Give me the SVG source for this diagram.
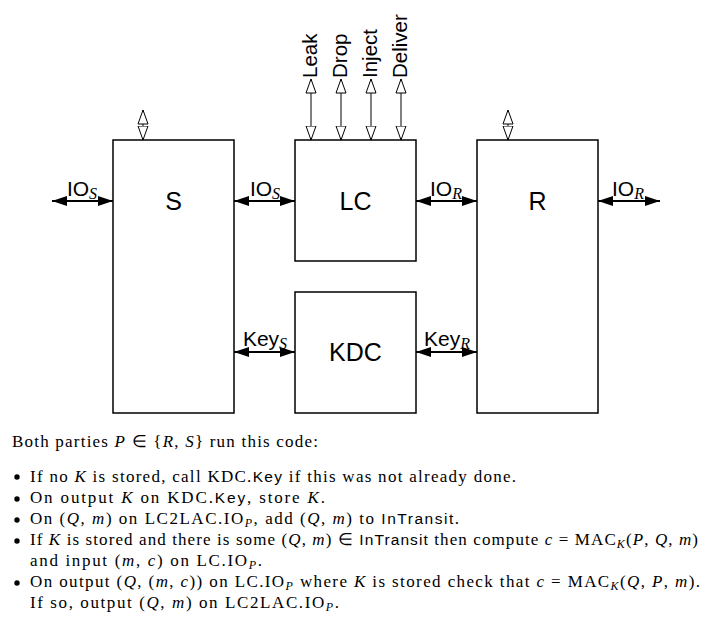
<svg xmlns="http://www.w3.org/2000/svg" width="717" height="625" viewBox="0 0 717 625">
<style>
.box{fill:#fff;stroke:#000;stroke-width:1.5}
.nl{font-family:"Liberation Sans",Arial,sans-serif;font-size:25px;text-anchor:middle}
.lab{font-family:"Liberation Sans",Arial,sans-serif;font-size:21px;text-anchor:middle}
.sub{font-family:"Liberation Serif","Times New Roman",serif;font-style:italic;font-size:16px}
.vl{font-family:"Liberation Sans",Arial,sans-serif;font-size:20.5px}
.fa{stroke:#000;stroke-width:1.8;fill:none;marker-start:url(#fh);marker-end:url(#fh)}
.ha{stroke:#000;stroke-width:1;fill:none;marker-start:url(#hh);marker-end:url(#hh)}
.t{font-family:"Liberation Serif","Times New Roman",serif;font-size:17px}
.i{font-style:italic}
.sf{font-family:"Liberation Sans",Arial,sans-serif;font-size:15.5px}
.s{font-style:italic;font-size:12px}
</style>
<defs>
<marker id="fh" markerUnits="userSpaceOnUse" markerWidth="15" markerHeight="11" refX="15" refY="5" orient="auto-start-reverse" viewBox="0 0 15 10">
<path d="M0,0 L15,5 L0,10 z" fill="#000"/>
</marker>
<marker id="hh" markerUnits="userSpaceOnUse" markerWidth="16" markerHeight="12" refX="14.5" refY="5.5" orient="auto-start-reverse" viewBox="0 0 16 11">
<path d="M0.5,0.5 L14.5,5.5 L0.5,10.5 z" fill="#fff" stroke="#000" stroke-width="1"/>
</marker>
</defs>
<rect width="717" height="625" fill="#fff"/>

<g id="connectors">
<line class="fa" x1="52" y1="201" x2="113" y2="201"/>
<line class="fa" x1="234" y1="201" x2="295" y2="201"/>
<line class="fa" x1="416" y1="201" x2="477" y2="201"/>
<line class="fa" x1="598" y1="201" x2="660" y2="201"/>
<line class="fa" x1="234" y1="352" x2="295" y2="352"/>
<line class="fa" x1="416" y1="352" x2="477" y2="352"/>
<line class="ha" x1="311" y1="79" x2="311" y2="140"/>
<line class="ha" x1="341" y1="79" x2="341" y2="140"/>
<line class="ha" x1="371" y1="79" x2="371" y2="140"/>
<line class="ha" x1="401" y1="79" x2="401" y2="140"/>
<line class="ha" x1="143" y1="110" x2="143" y2="140"/>
<line class="ha" x1="508" y1="110" x2="508" y2="140"/>
<text class="lab" x="82" y="196">IO<tspan class="sub" dy="3">S</tspan></text>
<text class="lab" x="265" y="196">IO<tspan class="sub" dy="3">S</tspan></text>
<text class="lab" x="446" y="196">IO<tspan class="sub" dy="3">R</tspan></text>
<text class="lab" x="628" y="196">IO<tspan class="sub" dy="3">R</tspan></text>
<text class="lab" x="265" y="346">Key<tspan class="sub" dy="3">S</tspan></text>
<text class="lab" x="447" y="346">Key<tspan class="sub" dy="3">R</tspan></text>
<text class="vl" transform="translate(317,78) rotate(-90)">Leak</text>
<text class="vl" transform="translate(347,78) rotate(-90)">Drop</text>
<text class="vl" transform="translate(377,78) rotate(-90)">Inject</text>
<text class="vl" transform="translate(407,78) rotate(-90)">Deliver</text>
</g>

<g id="S"><rect class="box" x="113" y="140" width="121" height="273"/><text class="nl" x="173.5" y="210">S</text></g>
<g id="LC"><rect class="box" x="295" y="140" width="121" height="121"/><text class="nl" x="355.5" y="210">LC</text></g>
<g id="KDC"><rect class="box" x="295" y="292" width="121" height="121"/><text class="nl" x="355.5" y="361">KDC</text></g>
<g id="R"><rect class="box" x="477" y="140" width="121" height="273"/><text class="nl" x="537.5" y="210">R</text></g>

<g id="code">
<text class="t" x="12" y="447" textLength="306" lengthAdjust="spacing">Both parties <tspan class="i">P</tspan> ∈ {<tspan class="i">R</tspan>, <tspan class="i">S</tspan>} run this code:</text>
<circle cx="17" cy="477" r="2.7"/>
<circle cx="17" cy="499" r="2.7"/>
<circle cx="17" cy="520" r="2.7"/>
<circle cx="17" cy="541" r="2.7"/>
<circle cx="17" cy="583" r="2.7"/>
<text class="t" x="30" y="482" textLength="486" lengthAdjust="spacing">If no <tspan class="i">K</tspan> is stored, call KDC.<tspan class="sf">Key</tspan> if this was not already done.</text>
<text class="t" x="30" y="503" textLength="295" lengthAdjust="spacing">On output <tspan class="i">K</tspan> on KDC.<tspan class="sf">Key</tspan>, store <tspan class="i">K</tspan>.</text>
<text class="t" x="30" y="524" textLength="429" lengthAdjust="spacing">On (<tspan class="i">Q</tspan>, <tspan class="i">m</tspan>) on LC2LAC.IO<tspan class="s" dy="3">P</tspan><tspan dy="-3">, add (</tspan><tspan class="i">Q</tspan>, <tspan class="i">m</tspan>) to <tspan class="sf">InTransit</tspan>.</text>
<text class="t" x="30" y="545" textLength="668" lengthAdjust="spacing">If <tspan class="i">K</tspan> is stored and there is some (<tspan class="i">Q</tspan>, <tspan class="i">m</tspan>) ∈ <tspan class="sf">InTransit</tspan> then compute <tspan class="i">c</tspan> = MAC<tspan class="s" dy="3">K</tspan><tspan dy="-3">(</tspan><tspan class="i">P</tspan>, <tspan class="i">Q</tspan>, <tspan class="i">m</tspan>)</text>
<text class="t" x="30" y="566" textLength="232" lengthAdjust="spacing">and input (<tspan class="i">m</tspan>, <tspan class="i">c</tspan>) on LC.IO<tspan class="s" dy="3">P</tspan><tspan dy="-3">.</tspan></text>
<text class="t" x="30" y="587" textLength="670" lengthAdjust="spacing">On output (<tspan class="i">Q</tspan>, (<tspan class="i">m</tspan>, <tspan class="i">c</tspan>)) on LC.IO<tspan class="s" dy="3">P</tspan><tspan dy="-3"> where </tspan><tspan class="i">K</tspan> is stored check that <tspan class="i">c</tspan> = MAC<tspan class="s" dy="3">K</tspan><tspan dy="-3">(</tspan><tspan class="i">Q</tspan>, <tspan class="i">P</tspan>, <tspan class="i">m</tspan>).</text>
<text class="t" x="30" y="608" textLength="309" lengthAdjust="spacing">If so, output (<tspan class="i">Q</tspan>, <tspan class="i">m</tspan>) on LC2LAC.IO<tspan class="s" dy="3">P</tspan><tspan dy="-3">.</tspan></text>
</g>
</svg>
